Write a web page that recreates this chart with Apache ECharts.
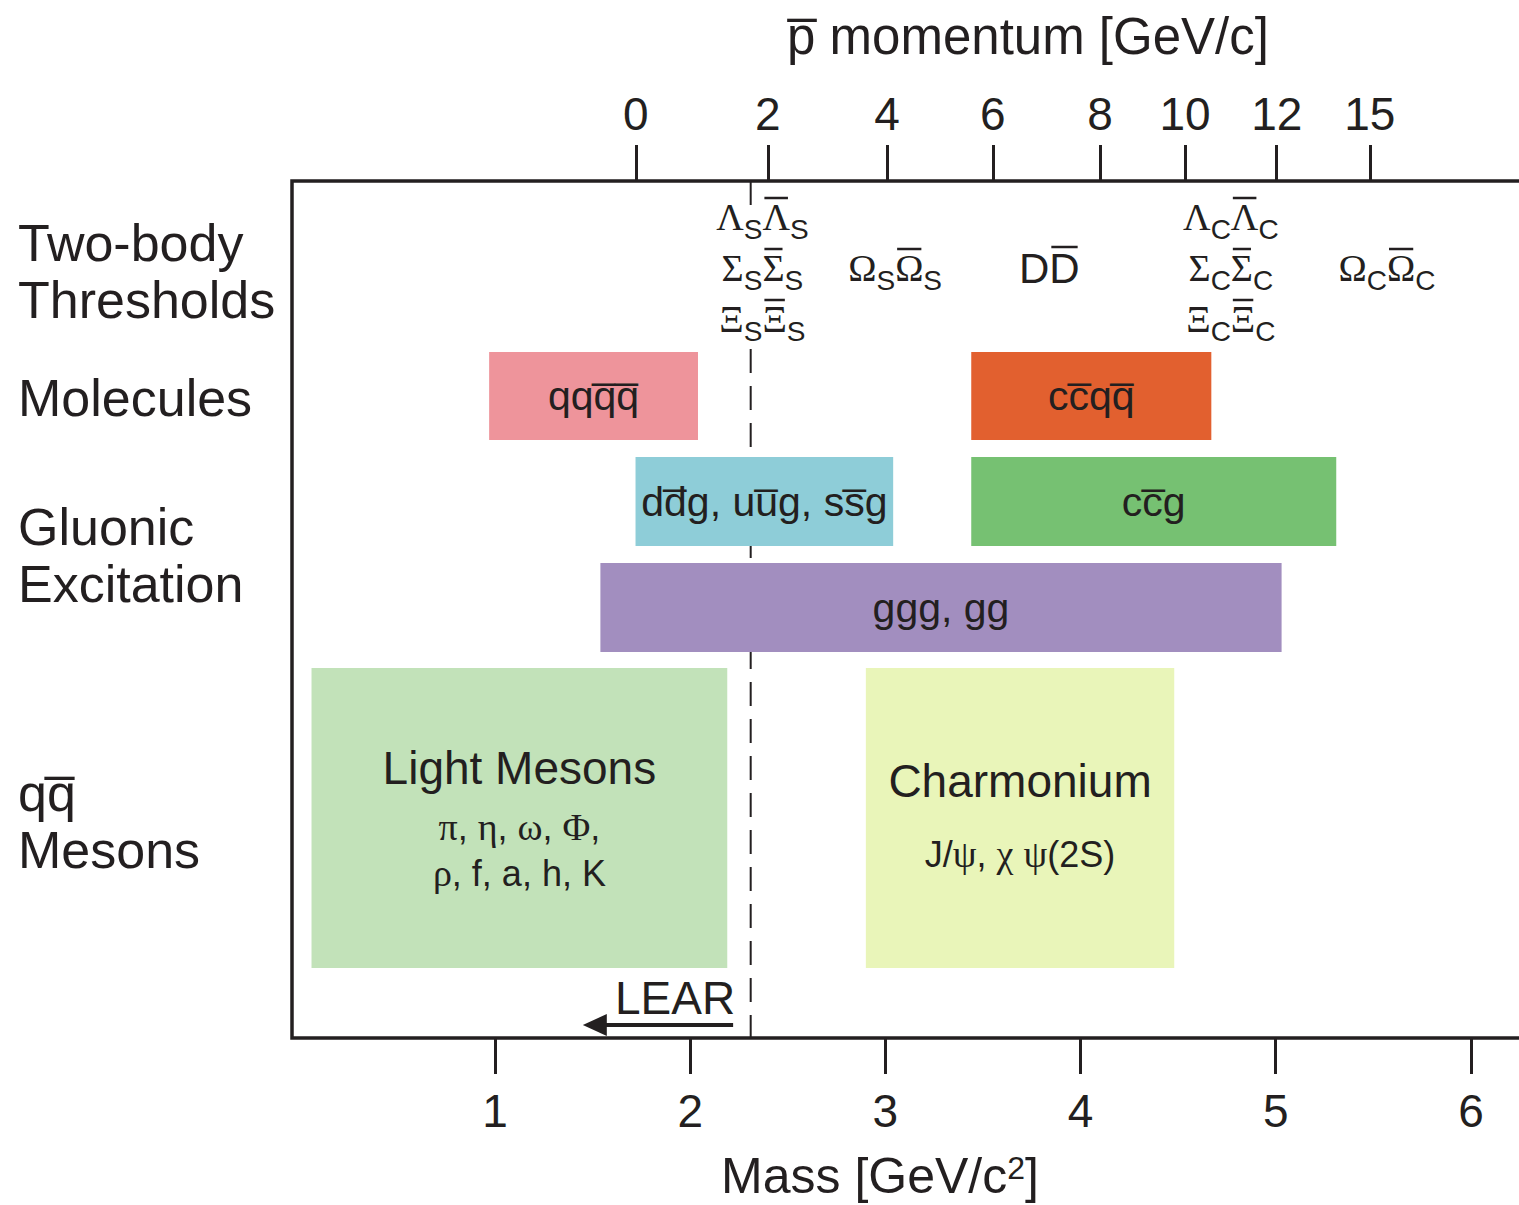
<!DOCTYPE html>
<html>
<head>
<meta charset="utf-8">
<script src="https://cdn.jsdelivr.net/npm/echarts@6/dist/echarts.min.js"></script>
<style>
html,body{margin:0;padding:0;background:#fff;}
#chart{width:1519px;height:1205px;}
</style>
</head>
<body>
<div id="chart"></div>
<script>
// ---------------- data ----------------
const massTicks = [1, 2, 3, 4, 5, 6];
const momentumLabels = ['0', '2', '4', '6', '8', '10', '12', '15'];
const momentumMass = [1.722, 2.398, 3.008, 3.551, 4.100, 4.535, 5.005, 5.482];

const rowNames = ['Two-body\nThresholds', 'Molecules', 'Gluonic\nExcitation', 'qq\u0305\nMesons'];

const barNames = ['qqq\u0305q\u0305', 'cc\u0305qq\u0305', 'dd\u0305g, uu\u0305g, ss\u0305g', 'cc\u0305g', 'ggg, gg', 'Light Mesons', 'Charmonium'];
const barDetails = ['', '', '', '', '', 'π, η, ω, Φ,\nρ, f, a, h, K', 'J/ψ, χ ψ(2S)'];
const barMassFrom = [0.97, 3.44, 1.72, 3.44, 1.54, 0.06, 2.90];
const barMassTo = [2.04, 4.67, 3.04, 5.31, 5.03, 2.19, 4.48];

const thresholdNames = [
  'Λ_SΛ\u0305_S\nΣ_SΣ\u0305_S\nΞ_SΞ\u0305_S',
  'Ω_SΩ\u0305_S',
  'DD\u0305',
  'Λ_CΛ\u0305_C\nΣ_CΣ\u0305_C\nΞ_CΞ\u0305_C',
  'Ω_CΩ\u0305_C'
];
const thresholdMass = [2.37, 3.05, 3.84, 4.77, 5.57];

const learLimitMass = 2.31;
const learArrowMass = [2.22, 1.45];
const learLabel = 'LEAR';

const massAxisName = 'Mass [GeV/c^2]';
const momentumAxisName = 'p\u0305 momentum [GeV/c]';

// ---------------- layout & style (not data) ----------------
const SANS = '"Liberation Sans", Arial, Helvetica, sans-serif';
const SERIF = '"Liberation Serif", "Times New Roman", serif';
const INK = '#231f20';
const X_MIN = -0.04, X_MAX = 6.4;
const BOX_DEPTH = 857;                       // vertical units of the frame (top = 0)
const SLOTS = [[171, 259], [276, 365], [382, 471], [487, 787]];
const BAR_SLOT = [0, 0, 1, 1, 2, 3, 3];
const BAR_COLORS = ['#ee949b', '#e2602f', '#8ecdd8', '#76c172', '#a28ebf', '#c2e2b9', '#e9f5b9'];
const DETAIL_LH = [46, 46, 46, 46, 46, 46, 74];
const ROW_LABEL_Y = [90.5, 217, 374.5, 640];
const THRESHOLD_Y = 87;
const TH_LINE = 51;
const TH_FONT = {
  G: { family: SERIF, size: 38, dy: 0, barDy: -19 },
  S: { family: SANS, size: 28, dy: 12, barDy: -12 },
  L: { family: SANS, size: 42, dy: 0, barDy: -21 }
};
const ARROW_Y = 844;
const DASH_SEGMENTS = [[0, 24, null], [168, BOX_DEPTH, [24, 13]]];

function isGreek(ch) { const c = ch.codePointAt(0); return c >= 0x0370 && c <= 0x03FF; }
function isComb(ch) { const c = ch.codePointAt(0); return c >= 0x0300 && c <= 0x036F; }

const measureCtx = document.createElement('canvas').getContext('2d');
function textWidth(str, size, family) {
  measureCtx.font = size + 'px ' + family;
  return measureCtx.measureText(str).width;
}

// tag Greek runs with a serif style and other runs with a sans style
function tagLine(line, gStyle, lStyle) {
  let out = '', cur = '', curG = null;
  for (const ch of line) {
    const g = isComb(ch) ? (curG === null ? false : curG) : isGreek(ch);
    if (curG !== null && g !== curG && cur) {
      out += '{' + (curG ? gStyle : lStyle) + '|' + cur + '}';
      cur = '';
    }
    curG = g; cur += ch;
  }
  if (cur) out += '{' + (curG ? gStyle : lStyle) + '|' + cur + '}';
  return out;
}

// threshold label line -> tokens (Greek serif / '_X' subscript / Latin), combining overline -> bar flag
function parseThreshold(line) {
  const toks = [];
  const chars = Array.from(line);
  for (let k = 0; k < chars.length; k++) {
    const ch = chars[k];
    if (ch === '_') { toks.push({ cls: 'S', text: chars[++k], bar: false }); continue; }
    if (ch === '\u0305') { if (toks.length) toks[toks.length - 1].bar = true; continue; }
    toks.push({ cls: isGreek(ch) ? 'G' : 'L', text: ch, bar: false });
  }
  return toks;
}

const BAR_RICH = {
  b: { fontFamily: SANS, fontSize: 41, color: INK },
  t: { fontFamily: SANS, fontSize: 46, lineHeight: 72, color: INK },
  g46: { fontFamily: SERIF, fontSize: 38, lineHeight: 46, color: INK },
  l46: { fontFamily: SANS, fontSize: 36, lineHeight: 46, color: INK },
  g74: { fontFamily: SERIF, fontSize: 38, lineHeight: 74, color: INK },
  l74: { fontFamily: SANS, fontSize: 36, lineHeight: 74, color: INK }
};

function barText(i) {
  if (!barDetails[i]) return '{b|' + barNames[i] + '}';
  const lh = DETAIL_LH[i];
  return '{t|' + barNames[i] + '}\n' +
    barDetails[i].split('\n').map(l => tagLine(l, 'g' + lh, 'l' + lh)).join('\n');
}

function nearestIndex(arr, v) {
  let best = 0;
  arr.forEach((a, k) => { if (Math.abs(a - v) < Math.abs(arr[best] - v)) best = k; });
  return best;
}

const chart = echarts.init(document.getElementById('chart'), null, { renderer: 'svg' });

const option = {
  animation: false,
  backgroundColor: '#ffffff',
  textStyle: { fontFamily: SANS, color: INK },
  grid: {
    left: 292, top: 181, right: -30, bottom: 167,
    show: true, borderColor: INK, borderWidth: 3.5,
    containLabel: false, outerBoundsMode: 'none'
  },
  xAxis: [
    {
      type: 'value', position: 'bottom', min: X_MIN, max: X_MAX,
      axisLine: { show: false, onZero: false }, splitLine: { show: false },
      axisTick: { show: true, customValues: massTicks, length: 36, lineStyle: { color: INK, width: 3 } },
      axisLabel: {
        show: true, customValues: massTicks, margin: 50, fontSize: 46, color: INK, fontFamily: SANS,
        formatter: v => massTicks[nearestIndex(massTicks, v)].toString()
      }
    },
    {
      type: 'value', position: 'top', min: X_MIN, max: X_MAX,
      axisLine: { show: false, onZero: false }, splitLine: { show: false },
      axisTick: { show: true, customValues: momentumMass, length: 36, lineStyle: { color: INK, width: 3 } },
      axisLabel: {
        show: true, customValues: momentumMass, margin: 44, fontSize: 46, color: INK, fontFamily: SANS,
        formatter: v => momentumLabels[nearestIndex(momentumMass, v)]
      }
    }
  ],
  yAxis: {
    type: 'value', min: 0, max: BOX_DEPTH, inverse: true,
    axisLine: { show: false, onZero: false }, axisTick: { show: false }, splitLine: { show: false },
    axisLabel: {
      show: true, customValues: ROW_LABEL_Y, align: 'left', margin: 274,
      fontSize: 52, lineHeight: 57, color: INK, fontFamily: SANS,
      formatter: v => rowNames[nearestIndex(ROW_LABEL_Y, v)]
    }
  },
  graphic: [
    {
      type: 'text', x: 1028, y: 36, silent: true,
      style: { text: momentumAxisName, fontFamily: SANS, fontSize: 51, fill: INK, align: 'center', verticalAlign: 'middle' }
    },
    {
      type: 'text', x: 880, y: 1176, silent: true,
      style: {
        text: '{m|' + massAxisName.split('^')[0] + '}{u|' + massAxisName.split('^')[1].charAt(0) + '}{m|' + massAxisName.split('^')[1].slice(1) + '}',
        rich: {
          m: { fontFamily: SANS, fontSize: 50, lineHeight: 48, fill: INK, color: INK },
          u: { fontFamily: SANS, fontSize: 32, lineHeight: 32, verticalAlign: 'top', fill: INK, color: INK }
        },
        fill: INK, align: 'center', verticalAlign: 'middle'
      }
    }
  ],
  series: [
    {
      name: 'LEAR', type: 'custom', silent: true,
      xAxisIndex: 0, yAxisIndex: 0,
      data: [[learLimitMass, learArrowMass[0], learArrowMass[1]]],
      renderItem: (params, api) => {
        const s = api.coord([api.value(1), ARROW_Y]);
        const e = api.coord([api.value(2), ARROW_Y]);
        const children = DASH_SEGMENTS.map(seg => {
          const a = api.coord([api.value(0), seg[0]]);
          const b = api.coord([api.value(0), seg[1]]);
          return { type: 'line', shape: { x1: a[0], y1: a[1], x2: b[0], y2: b[1] },
                   style: { stroke: INK, lineWidth: 2, lineDash: seg[2] } };
        });
        children.push(
          { type: 'line', shape: { x1: s[0], y1: s[1], x2: e[0] + 18, y2: e[1] },
            style: { stroke: INK, lineWidth: 4 } },
          { type: 'polygon', shape: { points: [[e[0], e[1]], [e[0] + 24, e[1] - 11], [e[0] + 24, e[1] + 11]] },
            style: { fill: INK } },
          { type: 'text', x: s[0] + 2, y: s[1] - 27,
            style: { text: learLabel, fontFamily: SANS, fontSize: 46, fill: INK, align: 'right', verticalAlign: 'middle' } }
        );
        return { type: 'group', children };
      }
    },
    {
      name: 'bands', type: 'custom', silent: true,
      xAxisIndex: 0, yAxisIndex: 0,
      data: barNames.map((n, i) => [barMassFrom[i], barMassTo[i], i]),
      renderItem: (params, api) => {
        const i = api.value(2);
        const band = SLOTS[BAR_SLOT[i]];
        const a = api.coord([api.value(0), band[0]]);
        const b = api.coord([api.value(1), band[1]]);
        const x = a[0], y = a[1], w = b[0] - a[0], h = b[1] - a[1];
        return {
          type: 'group',
          children: [
            { type: 'rect', shape: { x, y, width: w, height: h }, style: { fill: BAR_COLORS[i] } },
            {
              type: 'text', x: x + w / 2, y: y + h / 2 - (barDetails[i] && DETAIL_LH[i] === 46 ? 4 : 0),
              style: { text: barText(i), rich: BAR_RICH, fill: INK, align: 'center', verticalAlign: 'middle' }
            }
          ]
        };
      }
    },
    {
      name: 'thresholds', type: 'custom', silent: true,
      xAxisIndex: 0, yAxisIndex: 0,
      data: thresholdMass.map((m, i) => [m, i]),
      renderItem: (params, api) => {
        const i = api.value(1);
        const p = api.coord([api.value(0), THRESHOLD_Y]);
        const lines = thresholdNames[i].split('\n');
        const children = [];
        lines.forEach((line, li) => {
          const cy = p[1] + (li - (lines.length - 1) / 2) * TH_LINE;
          const toks = parseThreshold(line);
          toks.forEach(t => { const f = TH_FONT[t.cls]; t.w = textWidth(t.text, f.size, f.family); });
          const total = toks.reduce((s, t) => s + t.w, 0);
          let x = p[0] - total / 2;
          toks.forEach(t => {
            const f = TH_FONT[t.cls];
            children.push({
              type: 'text', x: x, y: cy + f.dy,
              style: { text: t.text, fontFamily: f.family, fontSize: f.size, fill: INK, align: 'left', verticalAlign: 'middle' }
            });
            if (t.bar) {
              children.push({
                type: 'line', shape: { x1: x + 2, y1: cy + f.barDy, x2: x + t.w - 2, y2: cy + f.barDy },
                style: { stroke: INK, lineWidth: 2.5 }
              });
            }
            x += t.w;
          });
        });
        return { type: 'group', children };
      }
    }
  ]
};

chart.setOption(option);
</script>
</body>
</html>
